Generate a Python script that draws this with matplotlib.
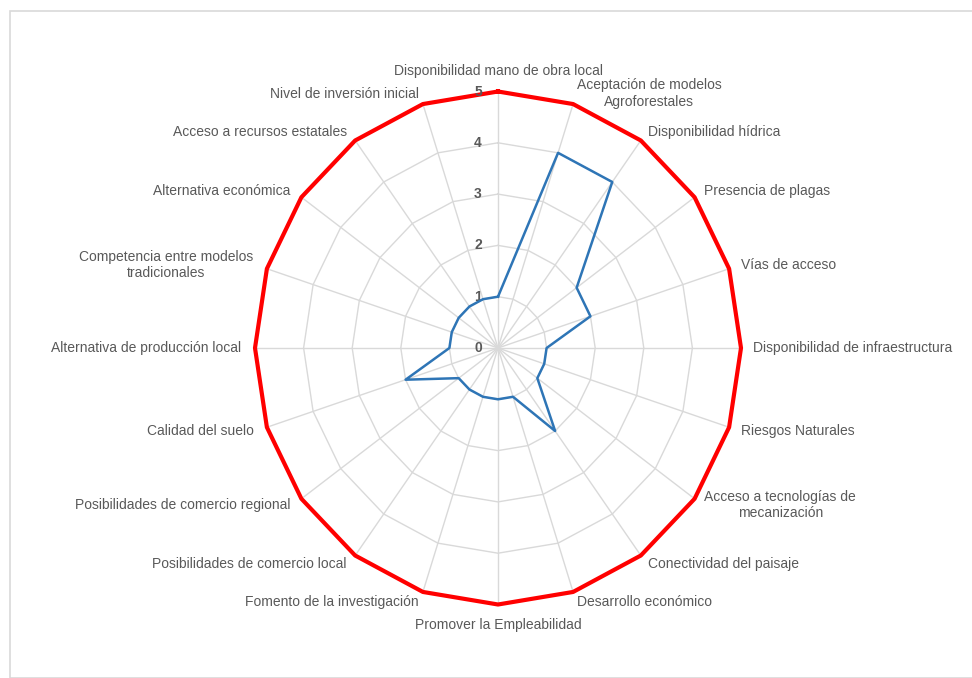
import numpy as np
import matplotlib
matplotlib.use("Agg")
import matplotlib.pyplot as plt
from matplotlib.patches import Rectangle

plt.rcParams['font.family'] = ['Liberation Sans', 'DejaVu Sans']

# Categorias (sentido horario desde arriba)
categorias = [
    "Disponibilidad mano de obra local",
    "Aceptación de modelos\nAgroforestales",
    "Disponibilidad hídrica",
    "Presencia de plagas",
    "Vías de acceso",
    "Disponibilidad de infraestructura",
    "Riesgos Naturales",
    "Acceso a tecnologías de\nmecanización",
    "Conectividad del paisaje",
    "Desarrollo económico",
    "Promover la Empleabilidad",
    "Fomento de la investigación",
    "Posibilidades de comercio local",
    "Posibilidades de comercio regional",
    "Calidad del suelo",
    "Alternativa de producción local",
    "Competencia entre modelos\ntradicionales",
    "Alternativa económica",
    "Acceso a recursos estatales",
    "Nivel de inversión inicial",
]

valores = [1, 4, 4, 2, 2, 1, 1, 1, 2, 1,
           1, 1, 1, 1, 2, 1, 1, 1, 1, 1]
maximo = [5] * 20
niveles = [0, 1, 2, 3, 4, 5]

gris_grid = '#d9d9d9'
gris_txt = '#595959'

n = len(categorias)
angulos = np.linspace(0, 2 * np.pi, n, endpoint=False)
ang_c = np.concatenate([angulos, angulos[:1]])

fig = plt.figure(figsize=(9.72, 6.78), dpi=100)

# marco gris de fondo
fig.patches.append(Rectangle((10 / 972, 0), 1.0, 1 - 11 / 678, transform=fig.transFigure,
                             fill=False, edgecolor=gris_grid, linewidth=1.2))

# el grafico original esta algo comprimido en horizontal
cx, cy, rx, ry = 498 / 972, 1 - 348 / 678, 243, 256.5
ax = fig.add_axes([cx - rx / 972, cy - ry / 678, 2 * rx / 972, 2 * ry / 678], polar=True)
ax.set_aspect('auto')
ax.set_theta_zero_location('N')
ax.set_theta_direction(-1)
ax.set_ylim(0, 5)
ax.grid(False)
ax.spines['polar'].set_visible(False)
ax.set_xticks([])
ax.set_yticks([])
ax.patch.set_alpha(0)

# rejilla poligonal
for nv in niveles[1:-1]:
    ax.plot(ang_c, [nv] * (n + 1), color=gris_grid, lw=1, zorder=1)
for a in angulos:
    ax.plot([a, a], [0, 5], color=gris_grid, lw=1, zorder=1)

# series
ax.plot(ang_c, maximo + maximo[:1], color='#ff0000', lw=3, zorder=3, clip_on=False)
ax.plot(ang_c, valores + valores[:1], color='#2e75b6', lw=1.8, zorder=4, clip_on=False)

# etiquetas del eje radial
for nv in niveles:
    ax.annotate(str(nv), xy=(0, nv), xytext=(-20, 0), textcoords='offset pixels',
                ha='center', va='center', fontsize=10, fontweight='bold', color=gris_txt)

# etiquetas de categorias
for a, cat in zip(angulos, categorias):
    grados = np.degrees(a)
    if np.isclose(grados, 0):
        ha, va, dx, dy = 'center', 'bottom', 0, 13
    elif np.isclose(grados, 180):
        ha, va, dx, dy = 'center', 'top', 0, -13
    else:
        ha = 'left' if grados < 180 else 'right'
        va = 'center'
        dx = 12 * np.sin(a) if grados < 180 else 14 * np.sin(a)
        dy = 11 * np.cos(a)
    ax.annotate(cat, xy=(a, 5), xytext=(dx, dy), textcoords='offset pixels',
                ha=ha, va=va, multialignment='center', fontsize=10, color=gris_txt,
                annotation_clip=False)

fig.savefig('out.png', dpi=100)
